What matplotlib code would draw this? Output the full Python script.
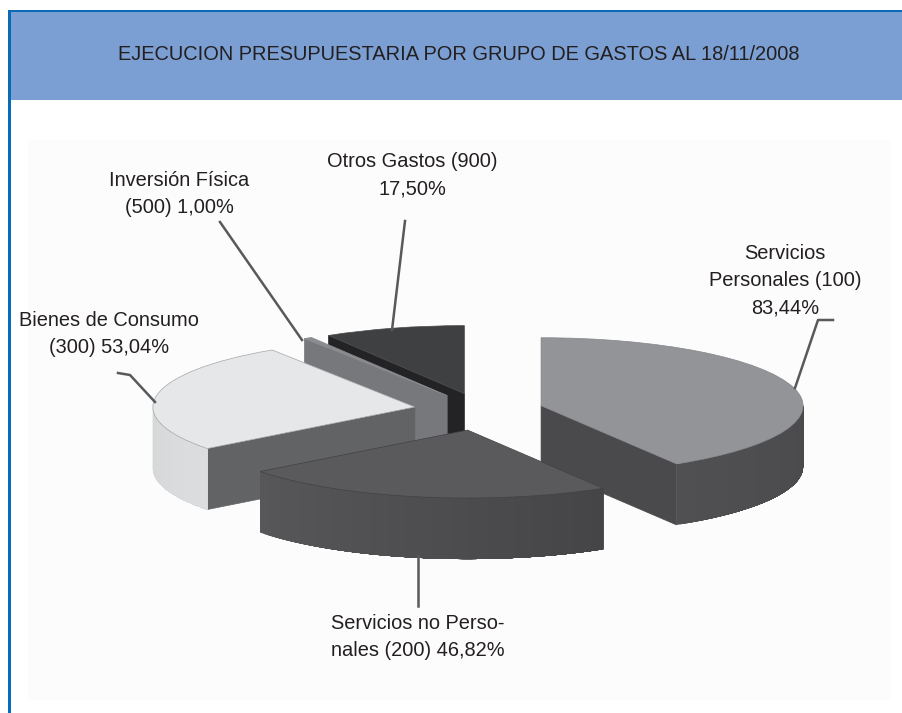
import numpy as np
import matplotlib
matplotlib.use("Agg")
import matplotlib.pyplot as plt
from matplotlib.colors import to_rgb
from matplotlib.patches import Polygon, Rectangle
from matplotlib.lines import Line2D

W, H = 903, 713

title = "EJECUCION PRESUPUESTARIA POR GRUPO DE GASTOS AL 18/11/2008"
values = [83.44, 46.82, 53.04, 1.00, 17.50]
value_labels = ["Servicios\nPersonales (100)\n83,44%", "Servicios no Perso-\nnales (200) 46,82%",
                "Bienes de Consumo\n(300) 53,04%", "Inversión Física\n(500) 1,00%",
                "Otros Gastos (900)\n17,50%"]

# styling
explode = [0.234, 0.30, 0.26, 0.25, 0.25]
top_colors = ["#929497", "#5a5a5c", "#e6e7e8", "#8a8b8e", "#3f4042"]
edge_colors = ["#85868a", "#424244", "#a5a6a8", "#8a8b8e", "#4a4a4c"]
# rim shade at the right and at the left end of each slice
rim_right = ["#4a4a4c", "#454547", "#dcdddf", "#77787b", "#3f4042"]
rim_left = ["#505052", "#575759", "#d6d7d9", "#77787b", "#3f4042"]
cut_colors = ["#4a4a4c", "#464648", "#626365", "#77787b", "#232325"]
draw_order = [4, 3, 2, 0, 1]

# pixel layout
cx, cy = 482, 410
rx, ry = 262, 68
depth = 61 / ry
label_pos = [(785, 281), (418, 637), (109, 334), (179, 194), (412, 175)]
leaders = [[(795, 388), (818, 320), (833, 320)],
           [(418, 556), (418, 606)],
           [(155, 402), (130, 375), (118, 373)],
           [(302, 340), (220, 222)],
           [(392, 330), (405, 221)]]


def fx(px):
    return px / W


def fy(py):
    return 1 - py / H


plt.rcParams['font.family'] = ['Liberation Sans', 'DejaVu Sans']
fig = plt.figure(figsize=(W / 100, H / 100), dpi=100, facecolor="white")

# scanned page: faint panel, blue header and border
fig.add_artist(Rectangle((fx(28), fy(700)), (890 - 28) / W, (700 - 140) / H, transform=fig.transFigure,
                         facecolor="#fcfcfc", edgecolor="none", zorder=-3))
fig.add_artist(Rectangle((fx(8), fy(100)), (W - 8) / W, 90 / H, transform=fig.transFigure,
                         facecolor="#7b9fd2", edgecolor="none", zorder=-2))
fig.add_artist(Rectangle((fx(8), 0), 3 / W, fy(10), transform=fig.transFigure,
                         facecolor="#0a6ab5", edgecolor="none", zorder=-1))
fig.add_artist(Rectangle((fx(8), fy(12)), (W - 8) / W, 2.5 / H, transform=fig.transFigure,
                         facecolor="#0a6ab5", edgecolor="none", zorder=-1))
fig.text(fx(459), fy(55), title, ha="center", va="center", fontsize=14.4, color="#231f20")

ax = fig.add_axes([0, 0, 1, 1])
ax.patch.set_alpha(0)
wedges, _ = ax.pie(values, explode=explode, startangle=90, counterclock=False, colors=top_colors,
                   wedgeprops={"linewidth": 0.5})
ax.set_aspect("auto")
ax.set_xlim(-cx / rx, (W - cx) / rx)
ax.set_ylim((cy - H) / ry, cy / ry)


def draw_rim(c, r, a1, a2, col_left, col_right, z):
    # a1 is the left end of the visible rim, a2 the right end
    n = 60
    t = np.radians(np.linspace(a1, a2, n + 1))
    x = c[0] + r * np.cos(t)
    y = c[1] + r * np.sin(t)
    c0, c1 = np.array(to_rgb(col_left)), np.array(to_rgb(col_right))
    # each band runs on to the right end, so no seams show between bands
    for k in range(n):
        col = c0 + (c1 - c0) * k / (n - 1)
        band = np.r_[np.c_[x[k:], y[k:]], np.c_[x[k:][::-1], y[k:][::-1] - depth]]
        ax.add_patch(Polygon(band, facecolor=col, edgecolor="none", zorder=z))


for z, i in enumerate(draw_order):
    w = wedges[i]
    zb = 3 * z + 2
    c, r = w.center, w.r
    # radial cut faces seen from the front
    for a, normal in ((w.theta1, w.theta1 - 90), (w.theta2, w.theta2 + 90)):
        if np.sin(np.radians(normal)) < -0.01:
            p = (c[0] + r * np.cos(np.radians(a)), c[1] + r * np.sin(np.radians(a)))
            quad = [c, p, (p[0], p[1] - depth), (c[0], c[1] - depth)]
            ax.add_patch(Polygon(quad, facecolor=cut_colors[i], edgecolor=cut_colors[i], lw=0.5, zorder=zb))
    # front part of the outer rim
    a_lo = max(w.theta1, -180)
    a_hi = min(w.theta2, 0)
    if a_hi > a_lo:
        draw_rim(c, r, a_lo, a_hi, rim_left[i], rim_right[i], zb + 1)
    w.set_edgecolor(edge_colors[i])
    w.set_zorder(zb + 2)

for text, (x, y) in zip(value_labels, label_pos):
    fig.text(fx(x), fy(y), text, ha="center", va="center", fontsize=14.4, color="#231f20", linespacing=1.55)

for pts in leaders:
    xs, ys = zip(*pts)
    fig.add_artist(Line2D([fx(v) for v in xs], [fy(v) for v in ys], transform=fig.transFigure,
                          color="#58595b", lw=1.8))

fig.savefig("out.png", dpi=100)
